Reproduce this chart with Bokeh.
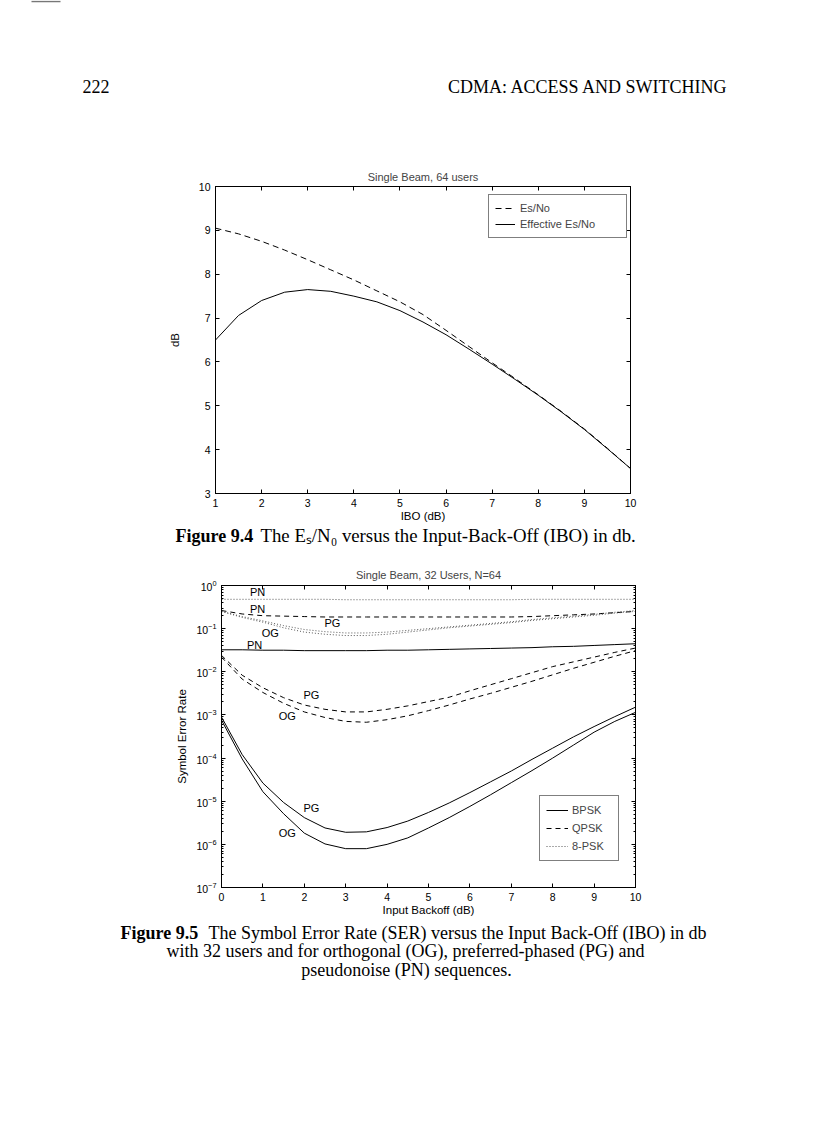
from bokeh.plotting import figure
from bokeh.models import (Range1d, LinearAxis, LogAxis, Legend, LegendItem, FixedTicker, Title,
                          CustomJSTickFormatter)
from bokeh.embed import file_html
from bokeh.resources import INLINE
from bokeh.core.properties import value

# ---------------- data: Figure 9.4 ----------------
ibo1 = [1, 1.5, 2, 2.5, 3, 3.5, 4, 4.5, 5, 5.5, 6, 6.5, 7, 7.5, 8, 8.5, 9, 9.5, 10]
esno = [9.05, 8.92, 8.75, 8.55, 8.33, 8.10, 7.87, 7.62, 7.37, 7.08, 6.72, 6.35, 5.98, 5.62, 5.25, 4.87, 4.47, 4.03, 3.57]
eff_esno = [6.50, 7.06, 7.40, 7.59, 7.65, 7.61, 7.50, 7.37, 7.17, 6.91, 6.62, 6.29, 5.95, 5.60, 5.24, 4.86, 4.46, 4.02, 3.57]
x1_ticks = [1, 2, 3, 4, 5, 6, 7, 8, 9, 10]
y1_ticks = [3, 4, 5, 6, 7, 8, 9, 10]

# ---------------- data: Figure 9.5 (read as exponents of SER on the log axis) ----------------
ibo2 = [0, 0.5, 1, 1.5, 2, 2.5, 3, 3.5, 4, 4.5, 5, 5.5, 6, 6.5, 7, 7.5, 8, 8.5, 9, 9.5, 10]
bpsk_pg_exp = [-3.05, -3.92, -4.58, -5.03, -5.38, -5.62, -5.72, -5.71, -5.61, -5.46, -5.26, -5.04, -4.80, -4.55, -4.30, -4.03, -3.77, -3.51, -3.27, -3.04, -2.82]
bpsk_og_exp = [-3.12, -4.02, -4.78, -5.29, -5.74, -5.99, -6.10, -6.10, -6.00, -5.85, -5.62, -5.38, -5.12, -4.85, -4.57, -4.29, -4.00, -3.70, -3.40, -3.15, -2.94]
bpsk_pn_exp = [-1.49, -1.49, -1.50, -1.50, -1.51, -1.51, -1.51, -1.51, -1.50, -1.50, -1.49, -1.48, -1.47, -1.46, -1.45, -1.44, -1.42, -1.41, -1.39, -1.37, -1.35]
qpsk_pg_exp = [-1.62, -2.08, -2.37, -2.60, -2.77, -2.87, -2.93, -2.93, -2.87, -2.79, -2.69, -2.59, -2.44, -2.30, -2.16, -2.02, -1.88, -1.77, -1.66, -1.55, -1.45]
qpsk_og_exp = [-1.66, -2.17, -2.48, -2.73, -2.93, -3.06, -3.15, -3.17, -3.11, -3.02, -2.90, -2.77, -2.63, -2.50, -2.36, -2.22, -2.07, -1.92, -1.78, -1.64, -1.51]
qpsk_pn_exp = [-0.58, -0.66, -0.70, -0.71, -0.72, -0.73, -0.73, -0.73, -0.73, -0.73, -0.73, -0.73, -0.73, -0.73, -0.73, -0.72, -0.70, -0.68, -0.66, -0.63, -0.60]
psk8_pg_exp = [-0.60, -0.72, -0.82, -0.93, -1.02, -1.07, -1.10, -1.10, -1.08, -1.04, -1.00, -0.96, -0.92, -0.88, -0.84, -0.79, -0.75, -0.71, -0.67, -0.62, -0.58]
psk8_og_exp = [-0.60, -0.74, -0.85, -0.98, -1.08, -1.13, -1.16, -1.16, -1.13, -1.08, -1.03, -0.98, -0.94, -0.90, -0.86, -0.81, -0.77, -0.73, -0.69, -0.64, -0.60]
psk8_pn_exp = [-0.32, -0.32, -0.32, -0.32, -0.32, -0.32, -0.33, -0.33, -0.33, -0.33, -0.33, -0.33, -0.33, -0.33, -0.33, -0.32, -0.32, -0.32, -0.32, -0.32, -0.32]
x2_ticks = [0, 1, 2, 3, 4, 5, 6, 7, 8, 9, 10]
y2_ticks = [1e-7, 1e-6, 1e-5, 1e-4, 1e-3, 1e-2, 1e-1, 1]

curve_lab_text = ["PN", "PN", "PG", "OG", "PN", "PG", "OG", "PG", "OG"]
curve_lab_x = [0.87, 0.87, 2.68, 1.18, 0.80, 2.17, 1.59, 2.17, 1.59]
curve_lab_exp = [-0.14, -0.55, -0.88, -1.11, -1.39, -2.53, -3.03, -5.15, -5.73]


def ser(exps):
    return [10.0 ** e for e in exps]


W = 816
SANS = "Liberation Sans"
SERIF = "Liberation Serif"
CAP_FS = "18px"
TICK_FS = "10.5px"
LAB_FS = "11.5px"
TXT_FS = "11px"
BLANK = CustomJSTickFormatter(code="return ''")


def canvas(h):
    c = figure(width=W, height=h, x_range=Range1d(0, W), y_range=Range1d(h, 0),
               x_axis_location=None, y_axis_location=None, output_backend="svg",
               toolbar_location=None, min_border=0)
    c.grid.visible = False
    c.outline_line_color = None
    return c


def put(c, x, y, s, align="left", bold=False, fs=CAP_FS):
    c.text(x=[x], y=[y], text=[s], text_font=value(SERIF), text_font_size=fs,
           text_font_style="bold" if bold else "normal", text_align=align,
           text_baseline="middle", text_color="black")


def style_axis(ax, labels=True):
    ax.axis_line_color = "black"
    ax.major_tick_in = 4
    ax.major_tick_out = 0
    ax.major_tick_line_color = "black"
    ax.major_label_text_font = SANS
    ax.major_label_text_font_size = TICK_FS
    ax.major_label_text_color = "black"
    ax.major_label_standoff = 5
    ax.axis_label_text_font = SANS
    ax.axis_label_text_font_size = LAB_FS
    ax.axis_label_text_font_style = "normal"
    ax.axis_label_text_color = "black"
    if not labels:
        ax.formatter = BLANK
        ax.major_label_standoff = 0


# ---------------- header ----------------
head = canvas(160)
head.line(x=[31, 60], y=[1, 1], line_color="#777777", line_width=1.5)
put(head, 82, 86, "222")
put(head, 728, 86, "CDMA: ACCESS AND SWITCHING", align="right")

# ---------------- Figure 9.4 ----------------
p1 = figure(frame_width=415, frame_height=307, x_range=Range1d(1, 10), y_range=Range1d(3, 10),
            min_border_left=215, min_border_right=186, min_border_top=26, min_border_bottom=32,
            output_backend="svg", toolbar_location=None)
p1.title = Title(text="Single Beam, 64 users", align="center", text_font=SANS, text_font_size=TXT_FS,
                 text_font_style="normal", standoff=7)
p1.grid.visible = False
p1.outline_line_color = "black"
p1.xaxis.ticker = FixedTicker(ticks=x1_ticks)
p1.yaxis.ticker = FixedTicker(ticks=y1_ticks)
p1.xaxis.axis_label = "IBO (dB)"
p1.yaxis.axis_label = "dB"
for ax in p1.xaxis + p1.yaxis:
    style_axis(ax)
    ax.minor_tick_line_color = None
p1.xaxis.axis_label_standoff = 0
p1.yaxis.axis_label_standoff = 15
top1 = LinearAxis(ticker=FixedTicker(ticks=x1_ticks))
right1 = LinearAxis(ticker=FixedTicker(ticks=y1_ticks))
for ax in (top1, right1):
    style_axis(ax, labels=False)
    ax.minor_tick_line_color = None
p1.add_layout(top1, "above")
p1.add_layout(right1, "right")

r_es = p1.line(ibo1, esno, line_color="black", line_width=1, line_dash="6 4")
r_eff = p1.line(ibo1, eff_esno, line_color="black", line_width=1)
leg1 = Legend(items=[LegendItem(label="Es/No", renderers=[r_es]),
                     LegendItem(label="Effective Es/No", renderers=[r_eff])],
              location=(273, 255), padding=6, spacing=2, margin=0, glyph_width=20, glyph_height=14,
              label_height=14, label_width=100, label_standoff=5, label_text_font=SANS,
              label_text_font_size=TXT_FS, border_line_color="black", border_line_width=1,
              background_fill_alpha=1)
p1.add_layout(leg1, "center")

# ---------------- caption 9.4 ----------------
cap1 = canvas(35)
put(cap1, 175, 10, "Figure 9.4", bold=True)
put(cap1, 260, 10, "The Eₛ/N₀ versus the Input-Back-Off (IBO) in db.", fs="18.8px")

# ---------------- Figure 9.5 ----------------
p2 = figure(frame_width=414, frame_height=302, x_range=Range1d(0, 10), y_range=Range1d(1e-7, 1),
            y_axis_type="log", min_border_left=221, min_border_right=181, min_border_top=25,
            min_border_bottom=28, output_backend="svg", toolbar_location=None)
p2.title = Title(text="Single Beam, 32 Users, N=64", align="center", text_font=SANS, text_font_size=TXT_FS,
                 text_font_style="normal", standoff=9)
p2.grid.visible = False
p2.outline_line_color = "black"
minor2 = [k * d for d in y2_ticks[:-1] for k in range(2, 10)]
p2.xaxis.ticker = FixedTicker(ticks=x2_ticks)
p2.yaxis.ticker = FixedTicker(ticks=y2_ticks, minor_ticks=minor2)
p2.xaxis.axis_label = "Input Backoff (dB)"
p2.yaxis.axis_label = "Symbol Error Rate"
for ax in p2.xaxis + p2.yaxis:
    style_axis(ax)
p2.xaxis.minor_tick_line_color = None
p2.yaxis.minor_tick_in = 2
p2.yaxis.minor_tick_out = 0
p2.xaxis.axis_label_standoff = 0
p2.yaxis.axis_label_standoff = 5
top2 = LinearAxis(ticker=FixedTicker(ticks=x2_ticks))
right2 = LogAxis(ticker=FixedTicker(ticks=y2_ticks, minor_ticks=minor2))
for ax in (top2, right2):
    style_axis(ax, labels=False)
top2.minor_tick_line_color = None
right2.minor_tick_in = 2
right2.minor_tick_out = 0
p2.add_layout(top2, "above")
p2.add_layout(right2, "right")

dot = "1 2"
dash = "5 4"
r_b = p2.line(ibo2, ser(bpsk_og_exp), line_color="black", line_width=1)
p2.line(ibo2, ser(bpsk_pg_exp), line_color="black", line_width=1)
p2.line(ibo2, ser(bpsk_pn_exp), line_color="black", line_width=1)
r_q = p2.line(ibo2, ser(qpsk_og_exp), line_color="black", line_width=1, line_dash=dash)
p2.line(ibo2, ser(qpsk_pg_exp), line_color="black", line_width=1, line_dash=dash)
p2.line(ibo2, ser(qpsk_pn_exp), line_color="black", line_width=1, line_dash=dash)
r_8 = p2.line(ibo2, ser(psk8_og_exp), line_color="#555555", line_width=1, line_dash=dot)
p2.line(ibo2, ser(psk8_pg_exp), line_color="#555555", line_width=1, line_dash=dot)
p2.line(ibo2, ser(psk8_pn_exp), line_color="#555555", line_width=1, line_dash=dot)

p2.text(x=curve_lab_x, y=ser(curve_lab_exp), text=curve_lab_text, text_font=value(SANS),
        text_font_size=TXT_FS, text_align="center", text_baseline="middle", text_color="black")

leg2 = Legend(items=[LegendItem(label="BPSK", renderers=[r_b]),
                     LegendItem(label="QPSK", renderers=[r_q]),
                     LegendItem(label="8-PSK", renderers=[r_8])],
              location=(318, 26), padding=6, spacing=2, margin=0, glyph_width=22, glyph_height=16,
              label_height=16, label_width=40, label_standoff=4, label_text_font=SANS,
              label_text_font_size=TXT_FS, border_line_color="black", border_line_width=1,
              background_fill_alpha=1)
p2.add_layout(leg2, "center")

# ---------------- caption 9.5 ----------------
cap2 = canvas(200)
put(cap2, 120, 14, "Figure 9.5", bold=True)
put(cap2, 208, 14, "The Symbol Error Rate (SER) versus the Input Back-Off (IBO) in db")
put(cap2, 405, 32, "with 32 users and for orthogonal (OG), preferred-phased (PG) and", align="center")
put(cap2, 406, 51, "pseudonoise (PN) sequences.", align="center")

open("out.html", "w").write(file_html([head, p1, cap1, p2, cap2], INLINE))
